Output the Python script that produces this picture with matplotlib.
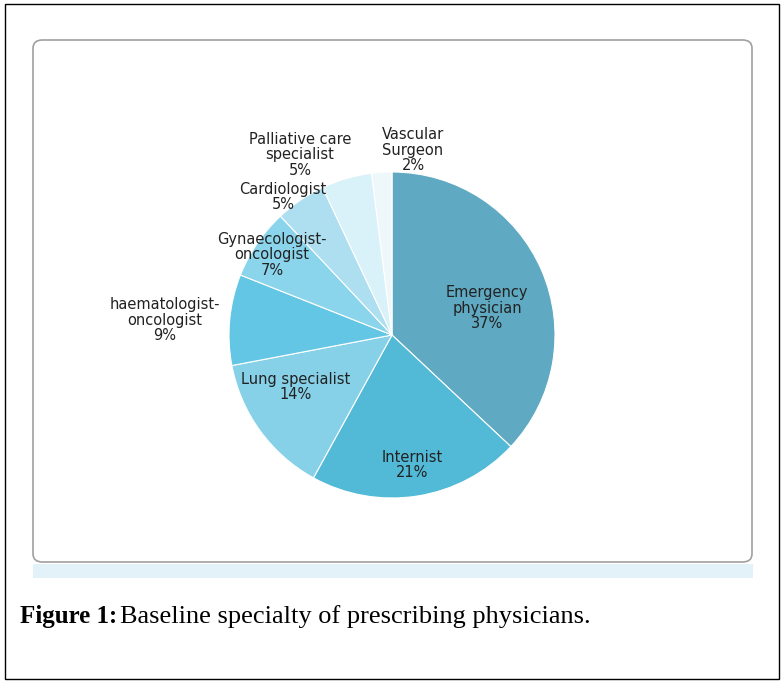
import matplotlib
matplotlib.use("Agg")
import matplotlib.pyplot as plt
from matplotlib.patches import FancyBboxPatch, Rectangle

specialties = ["Emergency\nphysician", "Internist", "Lung specialist", "haematologist-\noncologist",
               "Gynaecologist-\noncologist", "Cardiologist", "Palliative care\nspecialist", "Vascular\nSurgeon"]
shares = [37, 21, 14, 9, 7, 5, 5, 2]
colors = ["#5fa9c2", "#52b9d7", "#86d0e8", "#62c6e4", "#8ad5ec", "#addff0", "#d9f1f8", "#eef7fa"]
# label anchor positions in pixels (style)
label_px = [(487, 308), (412, 465), (296, 387), (165, 320), (272, 255), (283, 197), (300, 155), (413, 150)]

W, H = 784, 683
fig = plt.figure(figsize=(W/100, H/100), dpi=100)
fig.patches.append(Rectangle((5/W, 4/H), 774/W, 675/H, transform=fig.transFigure,
                             fill=False, edgecolor="black", lw=1, zorder=-2))
fig.patches.append(Rectangle((33/W, (H-578)/H), 720/W, 14/H, transform=fig.transFigure,
                             facecolor="#e3f1f8", edgecolor="none", zorder=-2))
fig.patches.append(FancyBboxPatch((33/W, (H-562)/H), 719/W, 522/H, transform=fig.transFigure,
                                  boxstyle="round,pad=0,rounding_size=0.012",
                                  facecolor="white", edgecolor="#a0a0a0", lw=1.2, zorder=-1))

cx, cy, r = 392, 335, 163
ax = fig.add_axes([(cx-r)/W, (H-cy-r)/H, 2*r/W, 2*r/H])
ax.set_zorder(2)
ax.patch.set_alpha(0)
ax.pie(shares, colors=colors, startangle=90, counterclock=False, radius=1,
       wedgeprops=dict(edgecolor="white", linewidth=0.8))
ax.set_xlim(-1, 1); ax.set_ylim(-1, 1)
ax.set_aspect("auto")
ax.axis("off")

for name, val, (px, py) in zip(specialties, shares, label_px):
    fig.text(px/W, (H-py)/H, f"{name}\n{val}%", ha="center", va="center",
             fontsize=10.5, family="DejaVu Sans", color="#222222", linespacing=1.05, zorder=5)

fig.text(20/W, (H-617)/H, "Figure 1:", fontsize=18, family="Liberation Serif",
         fontweight="bold", va="center")
fig.text(120/W, (H-617)/H, "Baseline specialty of prescribing physicians.", fontsize=19,
         family="Liberation Serif", va="center")

fig.savefig("out.png", dpi=100)
